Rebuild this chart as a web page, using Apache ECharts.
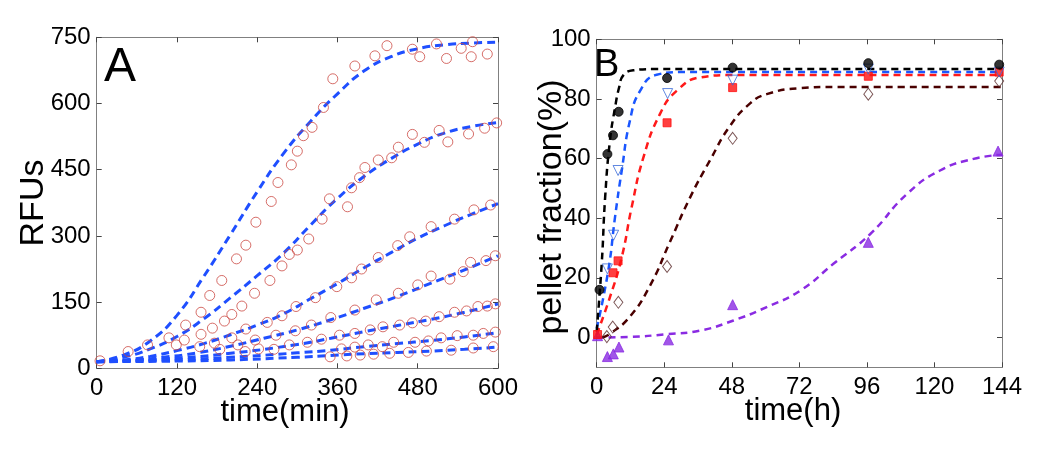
<!DOCTYPE html>
<html><head><meta charset="utf-8">
<script src="https://cdn.jsdelivr.net/npm/echarts@6/dist/echarts.min.js"></script>
<style>html,body{margin:0;padding:0;background:#fff}#c{width:1050px;height:450px}</style>
</head><body><div id="c"></div>
<script>
// ---------- Panel A: RFUs vs time(min) ----------
const xTicksA = [0, 120, 240, 360, 480, 600];
const yTicksA = [0, 150, 300, 450, 600, 750];
const fitA1 = [[0,15],[40,30],[80,62],[120,120],[160,208],[200,303],[240,400],[280,488],[320,560],[360,622],[400,674],[440,706],[480,724],[520,733],[560,737],[600,739]];
const fitA2 = [[0,15],[40,25],[80,44],[120,72],[160,112],[200,160],[240,210],[280,262],[320,325],[360,385],[400,435],[440,475],[480,508],[520,533],[560,548],[600,557]];
const fitA3 = [[0,15],[40,19],[80,27],[120,40],[160,56],[200,76],[240,98],[280,124],[320,158],[360,192],[400,228],[440,262],[480,295],[520,323],[560,349],[600,373]];
const fitA4 = [[0,15],[50,18],[100,25],[150,35],[200,50],[250,68],[300,87],[350,110],[400,136],[450,163],[500,193],[550,223],[600,255]];
const fitA5 = [[0,15],[100,21],[200,34],[300,54],[350,68],[400,83],[450,97],[500,111],[550,127],[600,146]];
const fitA6 = [[0,15],[100,18],[200,25],[300,35],[350,41],[400,49],[450,56],[500,63],[550,71],[600,81]];
const fitA7 = [[0,15],[100,16],[200,19],[300,25],[350,29],[400,33],[450,36],[500,39],[550,43],[600,48]];
const obsA1 = [[5,17],[47,38],[76,53],[108,69],[133,98],[156,127],[169,165],[187,199],[209,248],[223,279],[238,331],[261,378],[271,421],[291,461],[300,492],[309,527],[322,546],[339,591],[353,656],[386,685],[416,708],[434,731],[472,723],[483,706],[508,735],[523,702],[545,725],[560,706],[562,740],[584,712]];
const obsA2 = [[119,53],[131,64],[156,77],[173,91],[191,107],[202,122],[217,141],[236,170],[259,199],[277,232],[288,258],[300,268],[317,293],[337,338],[348,384],[375,366],[381,409],[393,432],[401,455],[421,472],[441,477],[451,501],[472,530],[490,512],[512,539],[525,513],[556,531],[580,544],[598,556]];
const obsA3 = [[154,49],[176,57],[202,69],[223,89],[255,104],[277,119],[298,140],[327,160],[359,185],[381,205],[396,225],[421,251],[450,278],[468,298],[500,321],[535,338],[564,359],[589,370]];
const obsA4 = [[184,43],[211,53],[237,64],[268,75],[297,85],[321,98],[350,115],[386,132],[418,155],[451,170],[480,189],[500,209],[528,202],[548,219],[559,240],[582,244],[596,255]];
const obsA5 = [[222,38],[242,44],[265,43],[288,53],[315,59],[336,66],[363,75],[386,79],[409,87],[428,94],[453,98],[472,103],[492,107],[512,117],[535,127],[553,130],[570,140],[584,141],[596,146]];
const obsA6 = [[366,44],[386,48],[406,53],[427,49],[444,59],[476,59],[496,62],[515,69],[539,74],[563,75],[578,79],[596,82]];
const obsA7 = [[349,26],[374,28],[394,30],[414,32],[438,34],[466,36],[493,39],[530,41],[563,46],[593,49]];

// ---------- Panel B: pellet fraction(%) vs time(h) ----------
const xTicksB = [0, 24, 48, 72, 96, 120, 144];
const yTicksB = [0, 20, 40, 60, 80, 100];
const fitBlack  = [[0,2],[1.8,25],[3,47],[4.7,66],[6.5,77],[8,84],[9.5,88],[13,89.6],[20,90],[144,90]];
const fitBlue   = [[0,3],[4.1,22.4],[6.5,40.3],[8.9,56],[11.8,72.7],[15.4,82.7],[21.3,88.1],[30,89],[144,89]];
const fitRed    = [[0,1],[4.7,13.5],[8.9,26.9],[12.4,43.6],[16.6,60.4],[22.5,75],[28.4,82.7],[36.7,87.2],[48,88],[144,88]];
const fitBrown  = [[2,0],[4.7,1.2],[11.8,7],[19,17.5],[26,32],[33.2,47],[40.3,59.5],[47.4,71],[54.5,78.5],[60.4,81.6],[72,83.6],[85,84],[144,84]];
const fitPurple = [[0,0],[11.8,0.2],[24.8,1.1],[36.7,2.3],[48.6,5.7],[60.4,10.2],[72.3,15.7],[84.1,24.7],[97.2,34.7],[110.2,48.1],[122,56],[133.9,59.9],[144,61.3]];
const obsBlack  = [[1,16],[3.8,61.5],[5.8,67.8],[7.8,75.7],[25,87],[48.3,90.5],[96.5,92],[143,91.5]];
const obsBlue   = [[3.8,23],[6,34.3],[7.6,56],[25.2,81.8],[48.3,86.3],[96.5,90],[143,89]];
const obsRed    = [[0.3,1],[5.8,21.7],[7.6,25.7],[25,72],[48.3,83.8],[96.5,87.6],[143,89]];
const obsBrown  = [[3.6,0.3],[5.7,3.5],[7.7,11.8],[25,23.8],[48.3,66.8],[96.5,81.6],[143,86]];
const obsPurple = [[0.3,0.6],[3.8,-6.4],[5.9,-5.5],[7.9,-3.2],[25.5,-0.8],[48.3,11],[96.5,31.9],[142.6,62.5]];

const FONT = 'Liberation Sans, Arial, Helvetica, sans-serif';
const AXC = '#808080';

function xAx(grid, min, max, interval, pos, labels) {
  return {
    type: 'value', gridIndex: grid, min: min, max: max, interval: interval, position: pos,
    axisLine: { show: true, onZero: false, lineStyle: { color: AXC, width: 1 } },
    axisTick: { show: true, inside: true, length: 5, lineStyle: { color: '#444', width: 1 } },
    axisLabel: { show: labels, fontSize: 24, color: '#000', fontFamily: FONT, margin: 8 },
    splitLine: { show: false }
  };
}
function yAx(grid, min, max, interval, pos, labels, custom) {
  const a = {
    type: 'value', gridIndex: grid, min: min, max: max, position: pos,
    axisLine: { show: true, onZero: false, lineStyle: { color: AXC, width: 1 } },
    axisTick: { show: true, inside: true, length: 5, lineStyle: { color: '#444', width: 1 } },
    axisLabel: { show: labels, fontSize: 24, color: '#000', fontFamily: FONT, margin: 6 },
    splitLine: { show: false }
  };
  if (custom) { a.axisTick.customValues = custom; a.axisLabel.customValues = custom; }
  else a.interval = interval;
  return a;
}

const blueA = '#1f4fff';
function fitA(d) {
  return { type: 'line', xAxisIndex: 0, yAxisIndex: 0, data: d, showSymbol: false, symbol: 'none',
    smooth: 0.5, lineStyle: { color: blueA, width: 3, type: [8, 5] }, z: 2, silent: true };
}
function obsA(d) {
  return { type: 'scatter', xAxisIndex: 0, yAxisIndex: 0, data: d, symbol: 'circle', symbolSize: 10,
    itemStyle: { color: 'rgba(0,0,0,0)', borderColor: '#cc4a44', borderWidth: 1 }, z: 3 };
}
function fitB(d, c) {
  return { type: 'line', xAxisIndex: 2, yAxisIndex: 2, data: d, showSymbol: false, symbol: 'none',
    smooth: 0.5, lineStyle: { color: c, width: 2.5, type: [7, 5] }, z: 2, silent: true };
}
function obsB(d, sym, size, fill, stroke, rot) {
  return { type: 'scatter', xAxisIndex: 2, yAxisIndex: 2, data: d, symbol: sym, symbolSize: size,
    symbolRotate: rot || 0,
    itemStyle: { color: fill, borderColor: stroke, borderWidth: 1 }, z: 3 };
}

const chart = echarts.init(document.getElementById('c'), null, { renderer: 'canvas' });
chart.setOption({
  animation: false,
  backgroundColor: '#fff',
  grid: [
    { left: 96.7, top: 37.3, width: 401.3, height: 331, containLabel: false },
    { left: 596.7, top: 39.3, width: 405.3, height: 328, containLabel: false }
  ],
  xAxis: [
    xAx(0, 0, 600, 120, 'bottom', true),
    xAx(0, 0, 600, 120, 'top', false),
    xAx(1, 0, 144, 24, 'bottom', true),
    xAx(1, 0, 144, 24, 'top', false)
  ],
  yAxis: [
    yAx(0, 0, 750, 150, 'left', true),
    yAx(0, 0, 750, 150, 'right', false),
    yAx(1, -10, 100, null, 'left', true, yTicksB),
    yAx(1, -10, 100, null, 'right', false, yTicksB)
  ],
  series: [
    fitA(fitA1), fitA(fitA2), fitA(fitA3), fitA(fitA4), fitA(fitA5), fitA(fitA6), fitA(fitA7),
    obsA(obsA1), obsA(obsA2), obsA(obsA3), obsA(obsA4), obsA(obsA5), obsA(obsA6), obsA(obsA7),
    fitB(fitPurple, '#8a2be2'), fitB(fitBrown, '#4a0000'), fitB(fitRed, '#ff1a1a'), fitB(fitBlue, '#1a56ff'), fitB(fitBlack, '#000000'),
    obsB(obsPurple, 'triangle', 10, '#8a2be2', '#8a2be2'),
    obsB(obsBrown, 'diamond', [9, 12], 'rgba(0,0,0,0)', '#5a2a2a'),
    obsB(obsRed, 'rect', 8, '#ff1010', '#ff1010'),
    obsB(obsBlue, 'triangle', 10, 'rgba(0,0,0,0)', '#3a6ad8', 180),
    obsB(obsBlack, 'circle', 9, '#000', '#000')
  ],
  graphic: [
    { type: 'text', x: 104, y: 68, style: { text: 'A', font: '48px ' + FONT, fill: '#000', textAlign: 'left', textVerticalAlign: 'middle' } },
    { type: 'text', x: 594, y: 66, style: { text: 'B', font: '38px ' + FONT, fill: '#000', textAlign: 'left', textVerticalAlign: 'middle' } },
    { type: 'text', x: 34, y: 203, rotation: Math.PI / 2, style: { text: 'RFUs', font: '34px ' + FONT, fill: '#000', textAlign: 'center', textVerticalAlign: 'middle' } },
    { type: 'text', x: 552, y: 207, rotation: Math.PI / 2, style: { text: 'pellet fraction(%)', font: '34px ' + FONT, fill: '#000', textAlign: 'center', textVerticalAlign: 'middle' } },
    { type: 'text', x: 285, y: 412, style: { text: 'time(min)', font: '31px ' + FONT, fill: '#000', textAlign: 'center', textVerticalAlign: 'middle' } },
    { type: 'text', x: 793, y: 411, style: { text: 'time(h)', font: '31px ' + FONT, fill: '#000', textAlign: 'center', textVerticalAlign: 'middle' } }
  ]
});
</script>
</body></html>
